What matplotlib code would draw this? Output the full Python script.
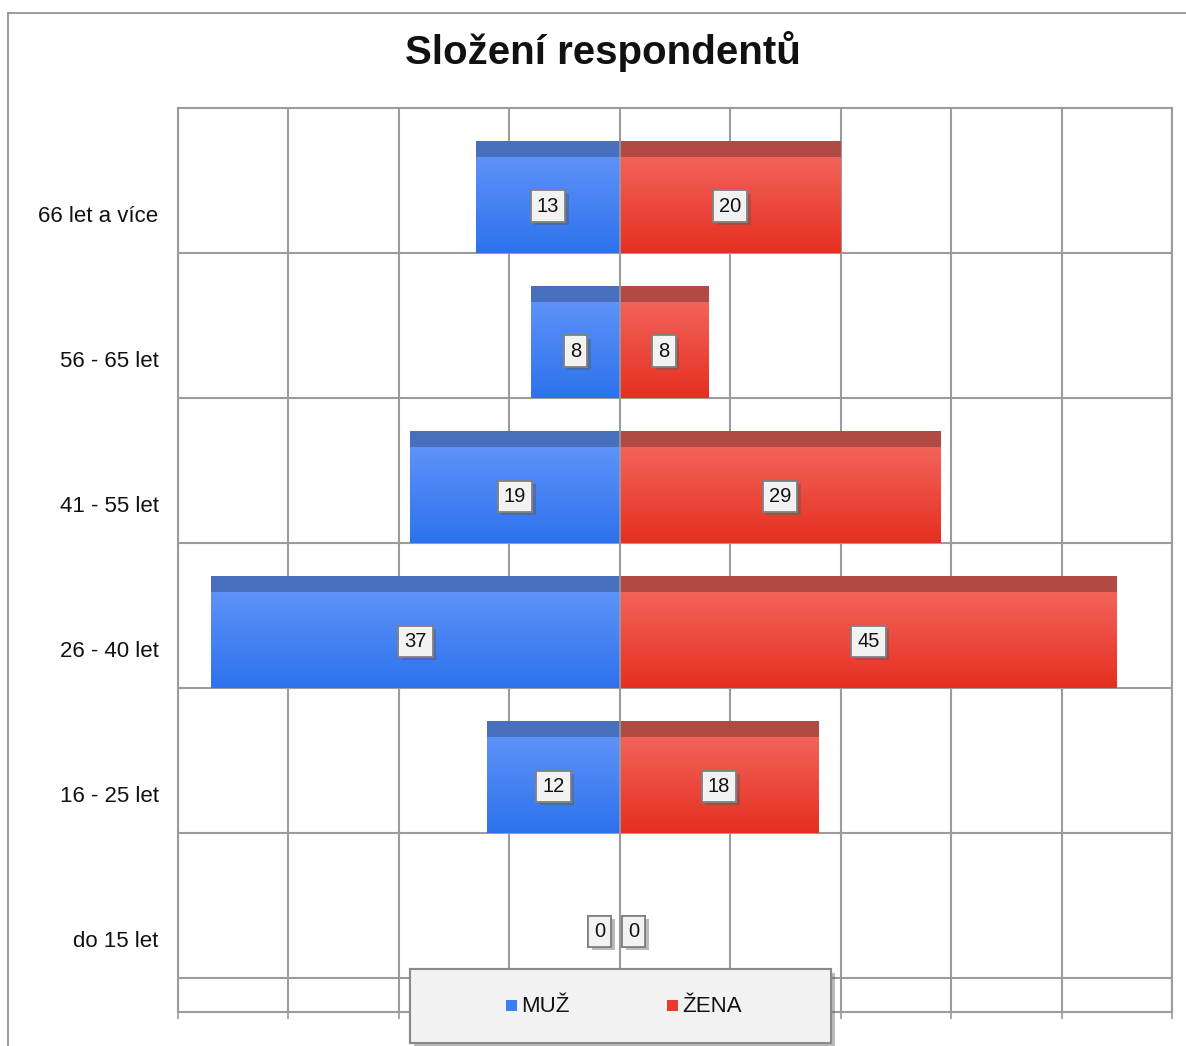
import numpy as np
import matplotlib
matplotlib.use("Agg")
import matplotlib.pyplot as plt
import matplotlib.patheffects as pe
from matplotlib.patches import Rectangle
from matplotlib.lines import Line2D

plt.rcParams['font.family'] = ['Liberation Sans', 'DejaVu Sans']

# data (top to bottom as in the chart)
categories = ["66 let a více", "56 - 65 let", "41 - 55 let", "26 - 40 let", "16 - 25 let", "do 15 let"]
muz = [13, 8, 19, 37, 12, 0]
zena = [20, 8, 29, 45, 18, 0]
series_names = ["MUŽ", "ŽENA"]

W, H = 1186, 1046
fig = plt.figure(figsize=(W / 100, H / 100), dpi=100)
ax = fig.add_axes([178 / W, 34 / H, (1172 - 178) / W, (1012 - 108) / H])

grid_c = '#9c9c9c'
n = len(categories)
ypos = np.arange(n)[::-1]  # top category at highest y

bar_lo, bar_hi, strip = -0.269, 0.503, 0.11

def hx(h):
    h = h.lstrip('#')
    return np.array([int(h[i:i + 2], 16) / 255 for i in (0, 2, 4)])

def grad_bar(x0, x1, y, top_c, bot_c, strip_c):
    if x0 == x1:
        return
    total = bar_hi - bar_lo
    n_strip = int(round(strip / total * 200))
    g = np.linspace(0, 1, 200 - n_strip)[:, None]
    body = hx(top_c)[None, :] * (1 - g) + hx(bot_c)[None, :] * g
    top = np.tile(hx(strip_c), (n_strip, 1))
    img = np.vstack([top, body])[:, None, :]
    ax.imshow(img, extent=(x0, x1, y + bar_lo, y + bar_hi), origin='upper',
              aspect='auto', zorder=2, interpolation='nearest')

for y, m, z in zip(ypos, muz, zena):
    grad_bar(-m, 0, y, '#5e92f9', '#2d72ec', '#486fbe')
    grad_bar(0, z, y, '#f3635b', '#e52f20', '#b14a45')

ax.axvline(0, color=grid_c, lw=1.2, zorder=2.5)

shadow = [pe.withSimplePatchShadow(offset=(2.5, -2.5), shadow_rgbFace='#555555', alpha=0.4), pe.Normal()]

def value_label(x, y, v, dx=0):
    t = ax.annotate(str(v), (x, y), xytext=(dx, 0), textcoords='offset points',
                    ha='center', va='center', fontsize=14.5, color='#111111', zorder=5,
                    bbox=dict(boxstyle='square,pad=0.3', fc='#f2f2f2', ec='#808080', lw=1.3))
    t.get_bbox_patch().set_path_effects(shadow)

for y, m, z in zip(ypos, muz, zena):
    ly = y + 0.055
    if m == 0 and z == 0:
        value_label(0, ly, m, dx=-14.4)
        value_label(0, ly, z, dx=10.1)
    else:
        value_label(-m / 2, ly, m)
        value_label(z / 2, ly, z)

ax.set_xlim(-40, 50)
ax.set_ylim(-0.503, n - 1 + 0.731)
ax.set_xticks(np.arange(-40, 51, 10))
ax.set_xticklabels([])
ax.tick_params(axis='x', length=5, color=grid_c, width=1.2)
ax.set_yticks(ypos)
ax.set_yticklabels(categories, fontsize=16, color='#111111')
ax.tick_params(axis='y', length=0, pad=14)
ax.set_yticks(np.arange(n) + bar_lo, minor=True)
ax.tick_params(axis='y', which='minor', length=0)
ax.grid(True, axis='x', color=grid_c, lw=1.5, zorder=0)
ax.grid(True, axis='y', which='minor', color=grid_c, lw=1.5, zorder=0)
ax.set_axisbelow(True)
for s in ax.spines.values():
    s.set_color(grid_c)
    s.set_linewidth(1.5)

fig.text(603 / W, 1 - 52 / H, "Složení respondentů", ha='center', va='center',
         fontsize=29, fontweight='bold', color='#111111')

# outer chart border
fig.add_artist(Line2D([8 / W, 8 / W], [0, 1 - 13 / H], transform=fig.transFigure, color='#8a8a8a', lw=1.2))
fig.add_artist(Line2D([8 / W, 1], [1 - 13 / H, 1 - 13 / H], transform=fig.transFigure, color='#8a8a8a', lw=1.2))

# legend box
leg = Rectangle((410 / W, 1 - 1043 / H), 421 / W, 74 / H, transform=fig.transFigure,
                fc='#f2f2f2', ec='#8a8a8a', lw=1.5, zorder=10)
leg.set_path_effects([pe.withSimplePatchShadow(offset=(3, -3), shadow_rgbFace='#555555', alpha=0.4), pe.Normal()])
fig.add_artist(leg)
for name, col, x in zip(series_names, ['#3a7ff2', '#ea3a2c'], [506, 667]):
    fig.add_artist(Rectangle((x / W, 1 - 1011 / H), 11 / W, 11 / H, transform=fig.transFigure,
                             fc=col, ec='none', zorder=11))
    fig.text((x + 15) / W, 1 - 1006 / H, name, ha='left', va='center', fontsize=16,
             color='#111111', zorder=12)

fig.savefig("out.png", dpi=100)
